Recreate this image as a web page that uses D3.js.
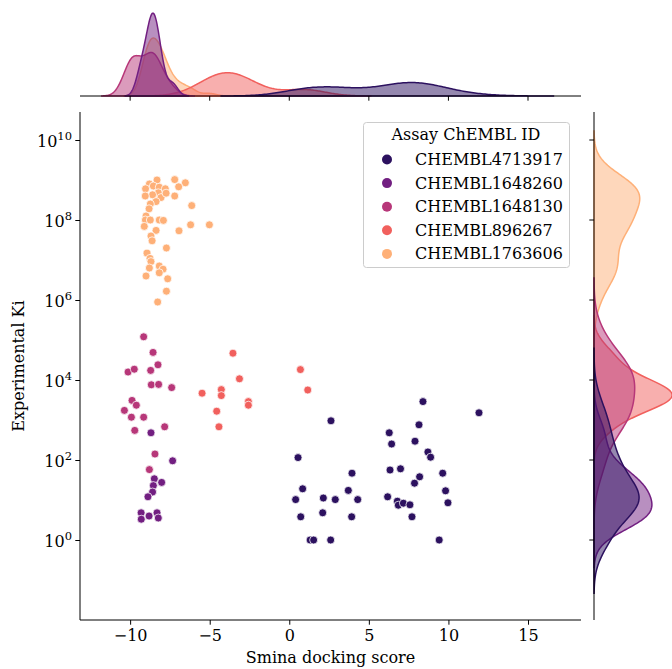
<!DOCTYPE html>
<html>
<head>
<meta charset="utf-8">
<script src="https://cdn.jsdelivr.net/npm/d3@7"></script>
<style>
  body { margin: 0; background: #fff; }
  svg text { font-family: "DejaVu Serif", serif; fill: #000; }
</style>
</head>
<body>
<div id="chart"></div>
<script>
// assay ids (hue levels) and the magma colours seaborn gives them
var assays = ["CHEMBL4713917", "CHEMBL1648260", "CHEMBL1648130", "CHEMBL896267", "CHEMBL1763606"];
var palette = ["#2c115f", "#721f81", "#b73779", "#f1605d", "#feb078"];

// smina docking score / log10(experimental Ki), one pair of arrays per assay
var score4713917 = [8.40, 11.92, 2.62, 8.15, 6.28, 7.90, 6.43, 8.71, 8.88, 0.55, 6.33, 6.99, 9.64, 8.19, 7.87, 3.94, 3.71, 9.82, 0.84, 0.40, 2.14, 2.89, 4.30, 9.97, 6.18, 6.79, 6.85, 7.17, 7.58, 7.71, 0.72, 2.10, 3.92, 1.31, 1.53, 2.60, 9.42];
var logKi4713917 = [3.46, 3.18, 2.98, 2.88, 2.68, 2.47, 2.40, 2.20, 2.07, 2.06, 1.75, 1.78, 1.67, 1.58, 1.42, 1.67, 1.24, 1.23, 1.28, 1.01, 1.05, 1.01, 1.01, 0.93, 1.08, 0.97, 0.87, 0.92, 0.88, 0.58, 0.58, 0.68, 0.58, 0, 0, 0, 0];

var score1648260 = [-8.69, -7.33, -8.48, -8.02, -8.54, -8.59, -8.88, -9.31, -9.30, -8.81, -8.31, -8.23];
var logKi1648260 = [2.68, 1.98, 1.53, 1.44, 1.36, 1.20, 1.08, 0.68, 0.52, 0.60, 0.68, 0.55];

var score1648130 = [-9.15, -8.56, -10.13, -9.74, -8.71, -8.25, -8.67, -8.21, -7.39, -9.88, -9.61, -10.36, -9.92, -9.15, -9.71, -7.83, -8.44, -8.79];
var logKi1648130 = [5.08, 4.69, 4.20, 4.27, 4.24, 4.38, 3.88, 3.89, 3.81, 3.49, 3.37, 3.24, 3.07, 3.07, 2.74, 2.83, 2.15, 1.76];

var score896267 = [-3.54, -3.13, -5.48, -4.27, -4.27, -2.57, -2.57, -4.56, -4.42, 0.70, 1.16];
var logKi896267 = [4.67, 4.03, 3.67, 3.76, 3.61, 3.46, 3.37, 3.22, 2.83, 4.26, 3.75];

var score1763606 = [-8.31, -7.20, -6.53, -6.95, -8.79, -8.54, -9.03, -8.17, -7.79, -8.23, -8.59, -9.05, -8.06, -7.74, -7.20, -8.37, -8.73, -8.81, -6.13, -9.00, -9.04, -8.73, -8.17, -7.91, -9.11, -6.20, -5.02, -8.37, -6.93, -8.69, -8.62, -7.72, -8.94, -8.75, -8.69, -8.17, -7.93, -8.17, -8.79, -9.00, -7.64, -7.72, -8.27];
var logKi1763606 = [9.00, 9.01, 8.93, 8.83, 8.90, 8.85, 8.78, 8.82, 8.78, 8.68, 8.63, 8.60, 8.56, 8.67, 8.60, 8.46, 8.40, 8.28, 8.36, 8.10, 8.00, 8.00, 8.00, 7.99, 7.84, 7.88, 7.88, 7.74, 7.73, 7.60, 7.48, 7.30, 7.17, 7.04, 6.96, 6.85, 6.77, 6.68, 6.80, 6.60, 6.53, 6.22, 5.95];

var xTicks = [-10, -5, 0, 5, 10, 15];
var yTickPowers = [0, 2, 4, 6, 8, 10];

var scores = [score4713917, score1648260, score1648130, score896267, score1763606];
var logKis = [logKi4713917, logKi1648260, logKi1648130, logKi896267, logKi1763606];

var width = 672, height = 669;
var joint = {left: 80, right: 581, top: 112, bottom: 620};
var margX = {bottom: 96, top: 9};
var margY = {left: 594, right: 676};

var svg = d3.select("#chart").append("svg")
  .attr("width", width)
  .attr("height", height);

var x = d3.scaleLinear().domain([-13.15, 18.33]).range([joint.left, joint.right]);
var y = d3.scaleLog().domain([Math.pow(10, -2.0), Math.pow(10, 10.7)]).range([joint.bottom, joint.top]);

// gaussian kde, scott bandwidth, cut=3, 200 grid points (like seaborn)
function kde(values) {
  var n = values.length;
  var sd = d3.deviation(values);
  var bw = sd * Math.pow(n, -0.2);
  var lo = d3.min(values) - 3 * bw, hi = d3.max(values) + 3 * bw;
  var pts = [];
  for (var i = 0; i < 200; i++) {
    var g = lo + (hi - lo) * i / 199;
    var s = 0;
    values.forEach(function(v) {
      var z = (g - v) / bw;
      s += Math.exp(-0.5 * z * z);
    });
    pts.push([g, s / (n * bw * Math.sqrt(2 * Math.PI))]);
  }
  return pts;
}

var kdeX = scores.map(kde);
var kdeY = logKis.map(kde);
var maxX = d3.max(kdeX, function(p) { return d3.max(p, function(d) { return d[1]; }); });
var maxY = d3.max(kdeY, function(p) { return d3.max(p, function(d) { return d[1]; }); });

var dx = d3.scaleLinear().domain([0, maxX * 1.05]).range([margX.bottom, margX.top]);
var dy = d3.scaleLinear().domain([0, maxY * 1.05]).range([margY.left, margY.right]);

// top marginal, last hue level first so the first one sits on top
var topG = svg.append("g");
for (var k = assays.length - 1; k >= 0; k--) {
  var area = d3.area()
    .x(function(d) { return x(d[0]); })
    .y0(margX.bottom)
    .y1(function(d) { return dx(d[1]); });
  topG.append("path")
    .datum(kdeX[k])
    .attr("d", area)
    .attr("fill", palette[k])
    .attr("fill-opacity", 0.5)
    .attr("stroke", palette[k])
    .attr("stroke-width", 1.5);
}
topG.append("line")
  .attr("x1", joint.left).attr("x2", joint.right)
  .attr("y1", margX.bottom).attr("y2", margX.bottom)
  .attr("stroke", "#000").attr("stroke-width", 1);
xTicks.forEach(function(t) {
  topG.append("line")
    .attr("x1", x(t)).attr("x2", x(t))
    .attr("y1", margX.bottom).attr("y2", margX.bottom + 4.7)
    .attr("stroke", "#000").attr("stroke-width", 1);
});

// right marginal (density in log10 space)
var rightG = svg.append("g");
for (var k = assays.length - 1; k >= 0; k--) {
  var areaR = d3.area()
    .y(function(d) { return y(Math.pow(10, d[0])); })
    .x0(margY.left)
    .x1(function(d) { return dy(d[1]); });
  rightG.append("path")
    .datum(kdeY[k])
    .attr("d", areaR)
    .attr("fill", palette[k])
    .attr("fill-opacity", 0.5)
    .attr("stroke", palette[k])
    .attr("stroke-width", 1.5);
}
rightG.append("line")
  .attr("x1", margY.left).attr("x2", margY.left)
  .attr("y1", joint.top).attr("y2", joint.bottom)
  .attr("stroke", "#000").attr("stroke-width", 1);
yTickPowers.forEach(function(p) {
  rightG.append("line")
    .attr("x1", margY.left - 4.7).attr("x2", margY.left)
    .attr("y1", y(Math.pow(10, p))).attr("y2", y(Math.pow(10, p)))
    .attr("stroke", "#000").attr("stroke-width", 1);
});

// scatter
var pts = svg.append("g");
assays.forEach(function(a, k) {
  pts.selectAll(null)
    .data(d3.zip(scores[k], logKis[k]))
    .enter()
    .append("circle")
    .attr("cx", function(d) { return x(d[0]); })
    .attr("cy", function(d) { return y(Math.pow(10, d[1])); })
    .attr("r", 4)
    .attr("fill", palette[k])
    .attr("stroke", "#fff")
    .attr("stroke-width", 0.75);
});

// axes of the joint plot
var xAxis = d3.axisBottom(x).tickValues(xTicks).tickSize(4.7).tickPadding(4.7)
  .tickFormat(function(d) { return d < 0 ? "\u2212" + Math.abs(d) : d; });
var gx = svg.append("g").attr("transform", "translate(0," + joint.bottom + ")").call(xAxis);
gx.select(".domain").attr("d", "M" + joint.left + ",0H" + joint.right);
gx.selectAll("text").attr("font-size", 16).attr("font-family", "DejaVu Serif");

var yAxis = d3.axisLeft(y).tickValues(yTickPowers.map(function(p) { return Math.pow(10, p); }))
  .tickSize(4.7).tickFormat("");
var gy = svg.append("g").attr("transform", "translate(" + joint.left + ",0)").call(yAxis);
gy.select(".domain").attr("d", "M0," + joint.top + "V" + joint.bottom);

yTickPowers.forEach(function(p) {
  var t = svg.append("text")
    .attr("x", 72)
    .attr("y", y(Math.pow(10, p)) + 6.5)
    .attr("text-anchor", "end")
    .attr("font-size", 16);
  t.append("tspan").text("10");
  t.append("tspan").attr("dy", -6.5).attr("font-size", 11.5).text(p);
});

svg.append("text")
  .attr("x", (joint.left + joint.right) / 2)
  .attr("y", 663)
  .attr("text-anchor", "middle")
  .attr("font-size", 16)
  .text("Smina docking score");

svg.append("text")
  .attr("transform", "translate(24," + ((joint.top + joint.bottom) / 2) + ") rotate(-90)")
  .attr("text-anchor", "middle")
  .attr("font-size", 16)
  .text("Experimental Ki");

// legend
var leg = svg.append("g");
leg.append("rect")
  .attr("x", 363.5).attr("y", 122.5)
  .attr("width", 206).attr("height", 145)
  .attr("rx", 3)
  .attr("fill", "#fff").attr("fill-opacity", 0.8)
  .attr("stroke", "#ccc");
leg.append("text")
  .attr("x", 466).attr("y", 140)
  .attr("text-anchor", "middle")
  .attr("font-size", 16)
  .text("Assay ChEMBL ID");
assays.forEach(function(a, k) {
  var cy = 159.5 + k * 23.6;
  leg.append("circle")
    .attr("cx", 387).attr("cy", cy).attr("r", 5)
    .attr("fill", palette[k]);
  leg.append("text")
    .attr("x", 415).attr("y", cy + 5.5)
    .attr("font-size", 16)
    .text(a);
});
</script>
</body>
</html>
